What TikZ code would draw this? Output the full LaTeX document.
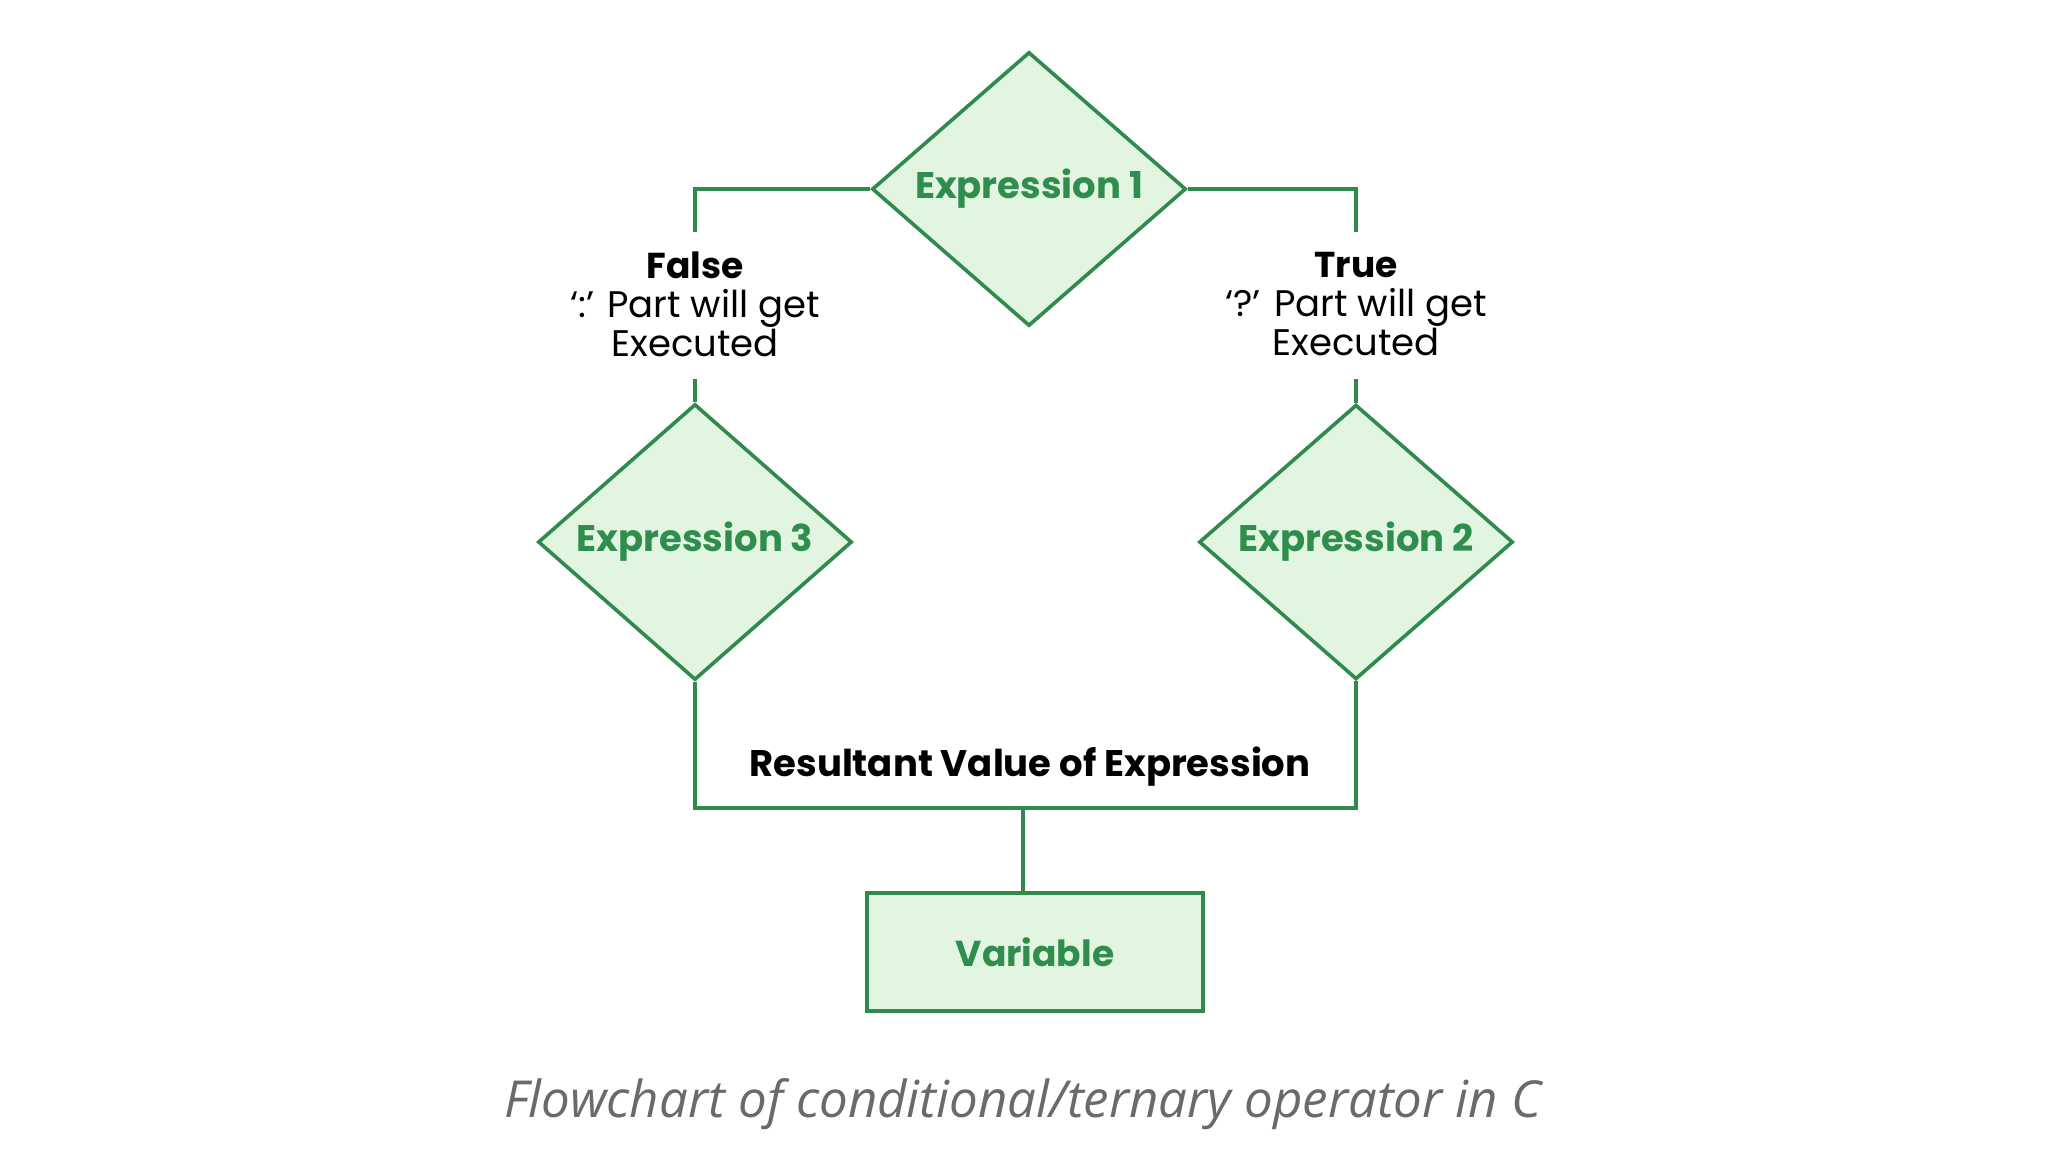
\documentclass[tikz,border=0pt]{standalone}
\usepackage{fontspec}
\setmainfont{Poppins}
\newfontfamily\capfont{Open Sans}
\usepackage{xcolor}
\usepackage{tikz}
\usetikzlibrary{shapes.geometric,positioning,calc}
\definecolor{gfggreen}{HTML}{2F8A4C}
\definecolor{gfgtext}{HTML}{2F8D4E}
\definecolor{gfglight}{HTML}{E1F5E1}
\definecolor{capgray}{HTML}{6A6A6A}

\begin{document}
\begin{tikzpicture}[x=0.5pt, y=-0.5pt,
  cond/.style={
    diamond,
    draw=gfggreen,
    fill=gfglight,
    line width=1.8pt,
    inner sep=0pt,
    minimum width=157pt,
    minimum height=137pt,
    text=gfgtext,
    font=\fontsize{18.5}{22}\selectfont\bfseries
  },
  box/.style={
    draw=gfggreen,
    fill=gfglight,
    line width=1.8pt,
    minimum width=168pt,
    minimum height=59pt,
    text=gfgtext,
    font=\fontsize{18}{22}\selectfont\bfseries
  },
  lbl/.style={align=center, inner sep=0pt, font=\fontsize{18.5}{19.5}\selectfont},
  link/.style={draw=gfggreen, line width=1.8pt}
]
\useasboundingbox (0,0) rectangle (2048,1152);

% decisions
\node[cond] (e1) at (1029,189) {Expression 1};
\node[cond] (e3) at (695,542) {Expression 3};
\node[cond] (e2) at (1356,542) {Expression 2};
\node[box] (var) at (1035,952) {Variable};

% branch labels
\node[lbl] (fl) at (695,304) {{\fontsize{18}{19.5}\selectfont\bfseries False}\\‘:’ Part will get\\Executed};
\node[lbl] (tl) at (1356,304) {{\fontsize{18}{19.5}\selectfont\bfseries True}\\‘?’ Part will get\\Executed};
\node[lbl, font=\fontsize{18.5}{22}\selectfont\bfseries] (res) at (1030,767) {Resultant Value of Expression};

\node[font=\capfont\itshape\fontsize{25.5}{30}\selectfont, text=capgray] (cap) at (1023,1104)
  {Flowchart of conditional/ternary operator in C};

\coordinate (ft) at (695,232);
\coordinate (fb) at (695,379);
\coordinate (tt) at (1356,232);
\coordinate (tb) at (1356,379);
\coordinate (jn) at (1023,808);

\draw[link] (e1.west) -| (ft);
\draw[link] (fb) -- (e3.north);
\draw[link] (e1.east) -| (tt);
\draw[link] (tb) -- (e2.north);
\draw[link] (e3.south) -- (e3.south |- jn) -- (e2.south |- jn) -- (e2.south);
\draw[link] (jn) -- (jn |- var.north);

\end{tikzpicture}
\end{document}
